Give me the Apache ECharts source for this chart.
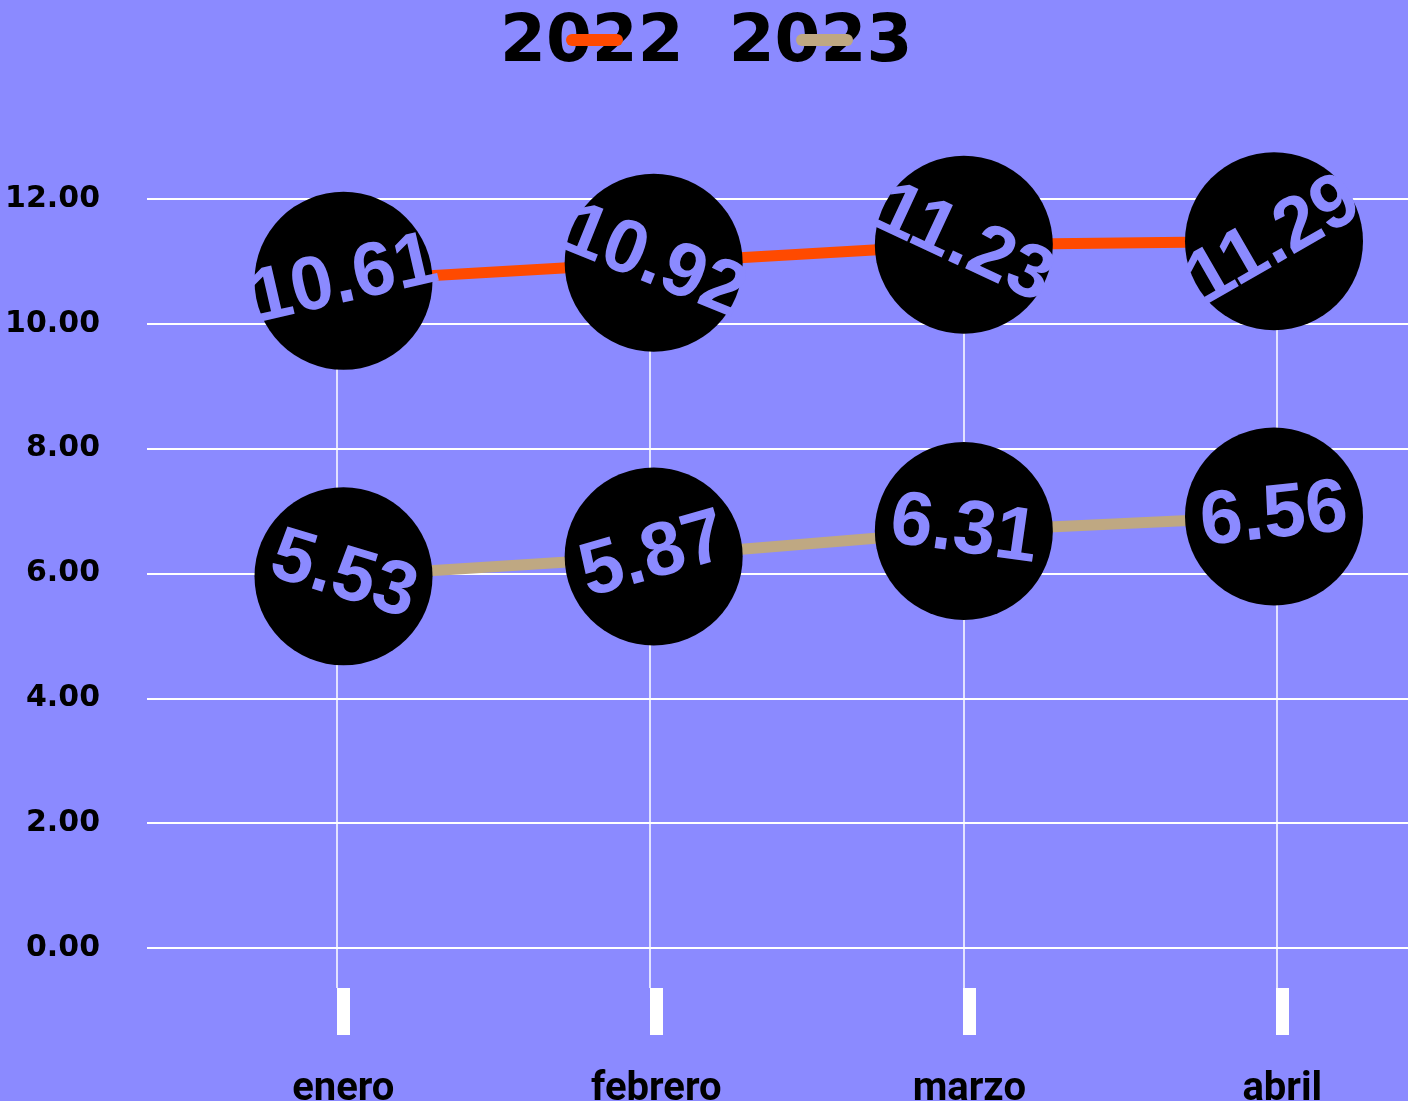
<!DOCTYPE html>
<html>
<head>
<meta charset="utf-8">
<script src="https://cdn.jsdelivr.net/npm/echarts@6/dist/echarts.min.js"></script>
<style>
  html, body { margin: 0; padding: 0; background: #8b8aff; }
  #chart { width: 1408px; height: 1101px; }
</style>
</head>
<body>
<div id="chart"></div>
<script>
// datos
const meses = ['enero', 'febrero', 'marzo', 'abril'];
const anios = ['2022', '2023'];
const valores2022 = [10.61, 10.92, 11.23, 11.29];
const valores2023 = [5.53, 5.87, 6.31, 6.56];
// giro de cada etiqueta (grados)
const giro2022 = [13, -22, -25, 30];
const giro2023 = [-17, 16, -8, 6];

const fondo = '#8b8aff';
const colores = ['#ff4a00', '#bfa882'];

function puntos(valores, giros) {
  return valores.map((v, i) => ({ value: v, label: { rotate: giros[i] } }));
}

function serie(nombre, valores, giros, color) {
  return {
    name: nombre,
    type: 'line',
    xAxisIndex: 3,
    yAxisIndex: 3,
    data: puntos(valores, giros),
    symbol: 'circle',
    symbolSize: 178,
    itemStyle: { color: '#000' },
    lineStyle: { color: color, width: 11 },
    label: {
      show: true,
      position: 'inside',
      color: fondo,
      fontFamily: 'Liberation Sans',
      fontWeight: 'bold',
      fontSize: 76,
      formatter: p => p.value.toFixed(2)
    },
    emphasis: { disabled: true }
  };
}

const chart = echarts.init(document.getElementById('chart'));

chart.setOption({
  backgroundColor: fondo,
  animation: false,
  legend: [
    { // solo texto
      data: anios,
      left: 494,
      top: 11,
      padding: 0,
      itemWidth: 0,
      itemHeight: 0,
      itemGap: 39,
      textStyle: { color: '#000', fontFamily: 'DejaVu Sans', fontWeight: 'bold', fontSize: 66 }
    },
    { // solo iconos, encima del texto
      data: anios.map((a, i) => ({ name: a, itemStyle: { color: colores[i] } })),
      z: 10,
      left: 566,
      top: 34,
      padding: 0,
      itemWidth: 57,
      itemHeight: 12,
      itemGap: 173,
      icon: 'path://M6,0H51A6,6,0,0,1,51,12H6A6,6,0,0,1,6,0Z',
      formatter: () => ''
    }
  ],
  grid: [
    { left: 147, right: 0, top: 199, bottom: 153, outerBoundsMode: 'none' },
    { left: 337, right: 131.5, top: 199, bottom: 153, outerBoundsMode: 'none' },
    { left: 343.3, right: 125.7, top: 199, bottom: 153, outerBoundsMode: 'none' },
    { left: 343.5, right: 134, top: 200, bottom: 203, outerBoundsMode: 'none' }
  ],
  xAxis: [
    {
      gridIndex: 1, type: 'category', data: meses, boundaryGap: false,
      axisLine: { show: false, onZero: false },
      axisTick: { show: true, length: 40, lineStyle: { color: '#fff', width: 1.5 } },
      axisLabel: { show: false },
      splitLine: { show: true, lineStyle: { color: '#fff', width: 1.5 } }
    },
    {
      gridIndex: 2, type: 'category', data: meses, boundaryGap: false, offset: 40,
      axisLine: { show: false, onZero: false },
      axisTick: { show: true, length: 47, lineStyle: { color: '#fff', width: 13 } },
      axisLabel: { margin: 82, color: '#000', fontFamily: 'Roboto', fontWeight: 'bold', fontSize: 40 },
      splitLine: { show: false }
    },
    { gridIndex: 0, type: 'value', show: false },
    { gridIndex: 3, type: 'category', data: meses, boundaryGap: false, show: false }
  ],
  yAxis: [
    {
      gridIndex: 0, type: 'value', min: 0, max: 12, interval: 2,
      axisLine: { show: false },
      axisTick: { show: false },
      axisLabel: {
        margin: 47, color: '#000', fontFamily: 'DejaVu Sans', fontWeight: 'bold', fontSize: 30,
        formatter: v => v.toFixed(2)
      },
      splitLine: { show: true, lineStyle: { color: '#fff', width: 2 } }
    },
    { gridIndex: 1, type: 'value', show: false },
    { gridIndex: 2, type: 'value', show: false },
    { gridIndex: 3, type: 'value', min: 0, max: 12, show: false }
  ],
  series: [
    serie(anios[0], valores2022, giro2022, colores[0]),
    serie(anios[1], valores2023, giro2023, colores[1])
  ]
});
</script>
</body>
</html>
